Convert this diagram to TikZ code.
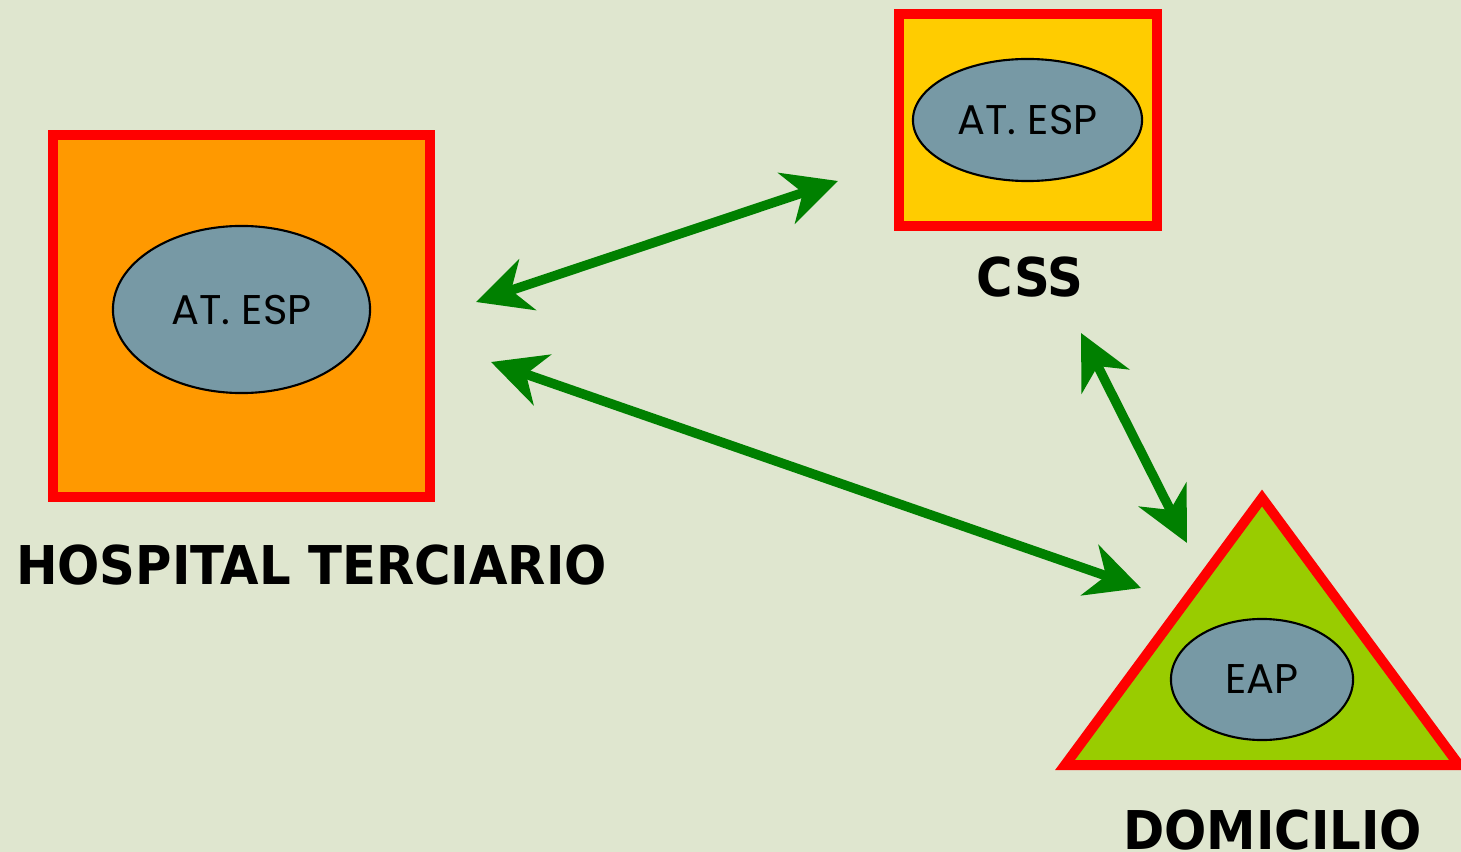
\documentclass[tikz,border=0pt]{standalone}
\usepackage{fontspec}
\usepackage{xcolor}
\usetikzlibrary{shapes.geometric,arrows.meta,positioning}
\newfontfamily\sitefont{DejaVu Sans}
\newfontfamily\ovalfont{Poppins}
\definecolor{bgcol}{RGB}{223,230,207}
\definecolor{hospcol}{RGB}{255,153,0}
\definecolor{csscol}{RGB}{255,204,0}
\definecolor{domcol}{RGB}{153,204,0}
\definecolor{ovalcol}{RGB}{119,153,165}
\definecolor{linkcol}{RGB}{0,128,0}

\begin{document}
\begin{tikzpicture}[x=0.01cm, y=-0.01cm,
    centre/.style={draw=red, line width=1mm, inner sep=0pt},
    oval/.style={ellipse, draw=black, line width=0.6pt, fill=ovalcol, inner sep=0pt, font=\ovalfont\fontsize{11.8}{14}\selectfont},
    sitelabel/.style={anchor=base, xscale=0.93, transform shape, font=\sitefont\bfseries\fontsize{15.2}{18}\selectfont},
    link/.style={linkcol, line width=0.95mm, {Stealth[length=5.4mm, width=5.3mm, inset=1.7mm]}-{Stealth[length=5.4mm, width=5.3mm, inset=1.7mm]}}]
    \fill[bgcol] (0,0) rectangle (1461,852);
    \useasboundingbox (0,0) rectangle (1461,852);

    % hospital
    \node[centre, fill=hospcol, minimum width=37.7mm, minimum height=36.2mm] (hosp) at (241.5,316) {};
    \node[oval, minimum width=25.7mm, minimum height=16.7mm] (hospesp) at (241.5,309.5) {AT. ESP};
    \node[sitelabel] (hosplabel) at (311.5,584) {HOSPITAL TERCIARIO};

    % CSS
    \node[centre, fill=csscol, minimum width=25.8mm, minimum height=21.2mm] (css) at (1028,120) {};
    \node[oval, minimum width=22.9mm, minimum height=12.2mm] (cssesp) at (1027.5,120) {AT. ESP};
    \node[sitelabel] (csslabel) at (1030,297) {CSS};

    % domicilio
    \draw[red, line width=1mm, fill=domcol, line join=miter] (1262,498) coordinate (domtop) -- (1065,765) coordinate (domleft) -- (1459,765) coordinate (domright) -- cycle;
    \node[oval, minimum width=18.2mm, minimum height=12.1mm] (eap) at (1262,679.5) {EAP};
    \node[sitelabel] (domlabel) at (1272.5,849) {DOMICILIO};

    % arrow ends
    \coordinate (hospup) at (476,302);
    \coordinate (csshosp) at (838,181);
    \coordinate (hospdown) at (491,362);
    \coordinate (domhosp) at (1141,588);
    \coordinate (cssdom) at (1081,333);
    \coordinate (domcss) at (1187,543);

    \draw[link] (hospup) -- (csshosp);
    \draw[link] (hospdown) -- (domhosp);
    \draw[link] (cssdom) -- (domcss);
\end{tikzpicture}
\end{document}
